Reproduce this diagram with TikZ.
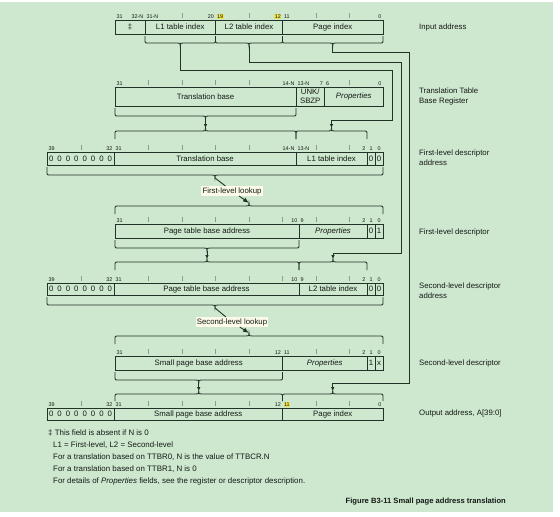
\documentclass[tikz,border=0pt]{standalone}
\usepackage{fontspec}
\setmainfont{Liberation Sans}
\usetikzlibrary{arrows.meta}
\definecolor{bg}{RGB}{206,232,208}
\definecolor{ln}{RGB}{34,50,38}
\definecolor{tx}{RGB}{20,26,20}
\definecolor{hl}{RGB}{236,226,80}
\definecolor{tk}{RGB}{140,156,142}
\definecolor{lk}{RGB}{252,250,232}
\newcommand\bbrace[5]{%
 \pgfmathsetmacro\xm{(#2+#3)/2}%
 \draw[brc] (#2,#4) -- (#2,#5-3.5) .. controls (#2,#5) .. (#2+3.5,#5) -- (\xm-3,#5) .. controls (\xm,#5) .. (\xm,#5+3) .. controls (\xm,#5) .. (\xm+3,#5) -- (#3-3.5,#5) .. controls (#3,#5) .. (#3,#5-3.5) -- (#3,#4);
 \coordinate (#1) at (\xm,#5+3);}
\newcommand\tbrace[5]{%
 \pgfmathsetmacro\xm{(#2+#3)/2}%
 \draw[brc] (#2,#4) -- (#2,#5+3.5) .. controls (#2,#5) .. (#2+3.5,#5) -- (\xm-3,#5) .. controls (\xm,#5) .. (\xm,#5-3) .. controls (\xm,#5) .. (\xm+3,#5) -- (#3-3.5,#5) .. controls (#3,#5) .. (#3,#5+3.5) -- (#3,#4);
 \coordinate (#1) at (\xm,#5-3);}
\newcommand\fld[6]{%
 \pgfmathsetmacro\fw{#3-#2}\pgfmathsetmacro\fh{#5-#4}%
 \node[fld, minimum width=\fw pt, minimum height=\fh pt] (#1) at ({(#2+#3)/2},{(#4+#5)/2}) {#6};}
\newcommand\zeros[3]{% name prefix, y1, y2
 \draw[fldline] (47,#2) rectangle (114,#3);
 \foreach \i in {0,...,7}{\node[lbl, inner sep=0] (#1\i) at ({47+8.375*(\i+0.5)},{(#2+#3)/2}) {0};}}
\newcommand\ticks[2]{% y, list
 \foreach \t in {#2}{\draw[tick] (\t,#1-6) -- (\t,#1-1);}}
\begin{document}
\begin{tikzpicture}[x=1pt,y=-1pt,
  lbl/.style={font=\fontsize{7.8}{9.6}\selectfont, text=tx},
  fld/.style={draw=ln, line width=0.9pt, inner sep=0pt, font=\fontsize{7.8}{8.6}\selectfont, text=tx, align=center},
  fldline/.style={draw=ln, line width=0.9pt},
  bit/.style={font=\fontsize{5.4}{6}\selectfont, text=tx, inner sep=0.4pt},
  bw/.style={bit, anchor=south west},
  be/.style={bit, anchor=south east},
  bc/.style={bit, anchor=south},
  hi/.style={fill=hl},
  tick/.style={draw=tk, line width=0.5pt},
  brc/.style={draw=ln, line width=0.9pt},
  cn/.style={draw=ln, line width=0.9pt},
  arr/.style={-{Latex[length=4pt,width=3.6pt]}},
  bigarr/.style={-{Latex[length=6pt,width=4.6pt]}},
  look/.style={font=\fontsize{7.8}{9}\selectfont, text=tx, fill=lk, inner sep=1.2pt},
  side/.style={font=\fontsize{7.8}{10}\selectfont, text=tx, anchor=west, align=left, inner sep=0pt},
  note/.style={font=\fontsize{7.9}{9}\selectfont, text=tx, anchor=west, inner sep=0pt}]
\useasboundingbox (0,0) rectangle (560,517);
\fill[white] (0,0) rectangle (560,517);
\fill[bg] (0,2) rectangle (553,512);

% ---------- Row 1: input address
\ticks{19}{182,249,316,349.5}
\node[bw] (r1b31) at (116,19) {31};
\node[be] (r1b32n) at (144,19) {32-N};
\node[bw] (r1b31n) at (146,19) {31-N};
\node[be] (r1b20) at (214.5,19) {20};
\node[bw,hi] (r1b19) at (216.5,19) {19};
\node[be,hi] (r1b12) at (281.5,19) {12};
\node[bw] (r1b11) at (283.5,19) {11};
\node[be] (r1b0) at (382,19) {0};
\fld{ia0}{115}{145}{20}{34}{‡}
\fld{ia1}{145}{215.5}{20}{34}{L1 table index}
\fld{ia2}{215.5}{282.5}{20}{34}{L2 table index}
\fld{ia3}{282.5}{383}{20}{34}{Page index}
\bbrace{b1a}{145}{215.5}{36}{43}
\bbrace{b1b}{215.5}{282.5}{36}{43}
\bbrace{b1c}{282.5}{383}{36}{43}

% ---------- Row 2: TTBR
\ticks{86}{148.5,182,215.5,249,349.5}
\node[bw] (r2b31) at (116,86) {31};
\node[be] (r2b14) at (295,86) {14-N};
\node[bw] (r2b13) at (297,86) {13-N};
\node[be] (r2b7) at (323.5,86) {7};
\node[bw] (r2b6) at (325.5,86) {6};
\node[be] (r2b0) at (382,86) {0};
\fld{tt0}{115}{296}{87}{106}{Translation base}
\fld{tt1}{296}{324.5}{87}{106}{UNK/\\SBZP}
\fld{tt2}{324.5}{383}{87}{106}{\textit{Properties}}
\bbrace{b2}{115}{296}{108}{116}

% ---------- Row 3: first-level descriptor address
\tbrace{t3a}{115}{296}{139}{131}
\tbrace{t3b}{296}{367}{139}{131}
\ticks{151}{81.5,148.5,182,215.5,249,316,349.5}
\node[bw] (r3b39) at (48,151) {39};
\node[be] (r3b32) at (113,151) {32};
\node[bw] (r3b31) at (115,151) {31};
\node[be] (r3b14) at (295,151) {14-N};
\node[bw] (r3b13) at (297,151) {13-N};
\node[be] (r3b2) at (366,151) {2};
\node[bc] (r3b1) at (371,151) {1};
\node[bc] (r3b0) at (379,151) {0};
\zeros{r3z}{152}{165}
\fld{r3a}{114}{296}{152}{165}{Translation base}
\fld{r3b}{296}{367}{152}{165}{L1 table index}
\fld{r3c}{367}{375}{152}{165}{0}
\fld{r3d}{375}{383}{152}{165}{0}
\bbrace{b3}{47}{383}{167}{175}

\node[look] (lk1) at (232,191) {First-level lookup};

% ---------- Row 4: first-level descriptor
\tbrace{t4}{115}{383}{214}{206}
\ticks{223}{148.5,182,215.5,249,282.5,316,349.5}
\node[bw] (r4b31) at (116,223) {31};
\node[be] (r4b10) at (298,223) {10};
\node[bw] (r4b9) at (300,223) {9};
\node[be] (r4b2) at (366,223) {2};
\node[bc] (r4b1) at (371,223) {1};
\node[bc] (r4b0) at (379,223) {0};
\fld{r4a}{115}{299}{224}{238}{Page table base address}
\fld{r4b}{299}{367}{224}{238}{\textit{Properties}}
\fld{r4c}{367}{375}{224}{238}{0}
\fld{r4d}{375}{383}{224}{238}{1}
\bbrace{b4}{115}{299}{240}{248}

% ---------- Row 5: second-level descriptor address
\tbrace{t5a}{115}{299}{270}{262}
\tbrace{t5b}{299}{367}{270}{262}
\ticks{282}{81.5,148.5,182,215.5,249,282.5,316,349.5}
\node[bw] (r5b39) at (48,282) {39};
\node[be] (r5b32) at (113,282) {32};
\node[bw] (r5b31) at (115,282) {31};
\node[be] (r5b10) at (298,282) {10};
\node[bw] (r5b9) at (300,282) {9};
\node[be] (r5b2) at (366,282) {2};
\node[bc] (r5b1) at (371,282) {1};
\node[bc] (r5b0) at (379,282) {0};
\zeros{r5z}{283}{295}
\fld{r5a}{114}{299}{283}{295}{Page table base address}
\fld{r5b}{299}{367}{283}{295}{L2 table index}
\fld{r5c}{367}{375}{283}{295}{0}
\fld{r5d}{375}{383}{283}{295}{0}
\bbrace{b5}{47}{383}{297}{305}

\node[look] (lk2) at (232,322) {Second-level lookup};

% ---------- Row 6: second-level descriptor
\tbrace{t6}{115}{383}{344}{336}
\ticks{355}{148.5,182,215.5,249,316,349.5}
\node[bw] (r6b31) at (116,355) {31};
\node[be] (r6b12) at (281.5,355) {12};
\node[bw] (r6b11) at (283.5,355) {11};
\node[be] (r6b2) at (366,355) {2};
\node[bc] (r6b1) at (371,355) {1};
\node[bc] (r6b0) at (379,355) {0};
\fld{r6a}{115}{282.5}{356}{370}{Small page base address}
\fld{r6b}{282.5}{367}{356}{370}{\textit{Properties}}
\fld{r6c}{367}{375}{356}{370}{1}
\fld{r6d}{375}{383}{356}{370}{x}
\bbrace{b6}{115}{282.5}{372}{380}

% ---------- Row 7: output address
\tbrace{t7a}{115}{282.5}{401}{394}
\tbrace{t7b}{282.5}{383}{401}{394}
\ticks{407}{81.5,148.5,182,215.5,249,316,349.5}
\node[bw] (r7b39) at (48,407) {39};
\node[be] (r7b32) at (113,407) {32};
\node[bw] (r7b31) at (115,407) {31};
\node[be] (r7b12) at (281.5,407) {12};
\node[bw,hi] (r7b11) at (283.5,407) {11};
\node[be] (r7b0) at (382,407) {0};
\zeros{r7z}{408}{420}
\fld{r7a}{114}{282.5}{408}{420}{Small page base address}
\fld{r7b}{282.5}{383}{408}{420}{Page index}

% ---------- connectors
\coordinate (c1a) at (392,70);  \coordinate (c1b) at (392,120);
\coordinate (c2a) at (401,62);  \coordinate (c2b) at (401,253);
\coordinate (c3a) at (409,52);  \coordinate (c3b) at (409,383);
\draw[cn,arr] (b1a) |- (c1a) -- (c1b) -| (t3b);
\draw[cn,arr] (b1b) |- (c2a) -- (c2b) -| (t5b);
\draw[cn,arr] (b1c) |- (c3a) -- (c3b) -| (t7b);
\draw[cn,arr] (b2) -- (t3a);
\draw[cn,arr] (b4) -- (t5a);
\draw[cn,arr] (b6) -- (t7a);
\draw[cn] (b3) -- (lk1);
\draw[cn,bigarr] (lk1) -- (t4);
\draw[cn] (b5) -- (lk2);
\draw[cn,bigarr] (lk2) -- (t6);

% ---------- side labels
\node[side] (s1) at (419,27) {Input address};
\node[side] (s2) at (419,96) {Translation Table\\Base Register};
\node[side] (s3) at (419,158) {First-level descriptor\\address};
\node[side] (s4) at (419,232) {First-level descriptor};
\node[side] (s5) at (419,291) {Second-level descriptor\\address};
\node[side] (s6) at (419,363) {Second-level descriptor};
\node[side] (s7) at (419,413) {Output address, A[39:0]};

% ---------- notes
\node[note] (n1) at (48,433) {‡ This field is absent if N is 0};
\node[note] (n2) at (53,445) {L1 = First-level, L2 = Second-level};
\node[note] (n3) at (53,457) {For a translation based on TTBR0, N is the value of TTBCR.N};
\node[note] (n4) at (53,469) {For a translation based on TTBR1, N is 0};
\node[note] (n5) at (53,481) {For details of \textit{Properties} fields, see the register or descriptor description.};
\node[font=\fontsize{7.6}{9}\selectfont\bfseries, text=tx, anchor=east, inner sep=0pt] (cap) at (506,502) {Figure B3-11 Small page address translation};
\end{tikzpicture}
\end{document}
